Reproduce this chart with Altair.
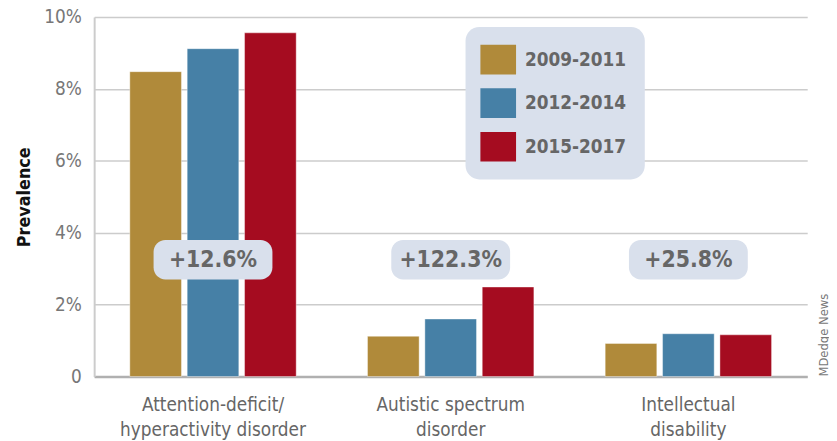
import altair as alt
import pandas as pd

categories = ["Attention-deficit/|hyperactivity disorder", "Autistic spectrum|disorder", "Intellectual|disability"]
periods = ["2009-2011", "2012-2014", "2015-2017"]
colors = ["#B08A3A", "#4680A6", "#A50C20"]
values = {
    "2009-2011": [8.48, 1.12, 0.92],
    "2012-2014": [9.12, 1.60, 1.19],
    "2015-2017": [9.56, 2.49, 1.16],
}
changes = ["+12.6%", "+122.3%", "+25.8%"]
y_ticks = [0, 2, 4, 6, 8, 10]

FONT = "DejaVu Sans Condensed, Roboto, sans-serif"
BOX = "#D9E0EC"
GRAY = "#666666"

rows = []
for p in periods:
    for c, v in zip(categories, values[p]):
        rows.append({"cat": c, "period": p, "value": v})
df = pd.DataFrame(rows)
ann = pd.DataFrame({"cat": categories, "label": changes, "lo": [2.7] * 3, "hi": [3.8] * 3, "mid": [3.25] * 3})
credit = pd.DataFrame({"t": ["MDedge News"]})

x = alt.X("cat:N", sort=categories, title=None,
          scale=alt.Scale(paddingInner=0.3, paddingOuter=0.15),
          axis=alt.Axis(labelExpr="split(datum.label, '|')", labelAngle=0, labelFontSize=19,
                        labelColor=GRAY, labelFont=FONT, labelLineHeight=26, labelPadding=19,
                        labelLimit=0, ticks=False, domainColor="#B0B0B0", domainWidth=2.5,
                        labelBaseline="top"))
y_axis = alt.Axis(values=y_ticks, labelExpr="datum.value == 0 ? '0' : datum.value + '%'",
                  labelFontSize=19, labelColor="#777777", labelFont=FONT, ticks=False,
                  labelPadding=13, gridColor="#CCCCCC", gridWidth=1.5, domainColor="#CCCCCC",
                  domainWidth=2, title="Prevalence", titleFont=FONT, titleFontSize=18,
                  titleColor="#111111", titleFontWeight="bold", titlePadding=10)
yscale = alt.Scale(domain=[0, 10])

bars = alt.Chart(df).mark_bar(strokeWidth=1, strokeOpacity=0.4, stroke="white").encode(
    x=x,
    xOffset=alt.XOffset("period:N", sort=periods, scale=alt.Scale(paddingInner=0.1)),
    y=alt.Y("value:Q", scale=yscale, axis=y_axis),
    color=alt.Color("period:N", sort=periods, scale=alt.Scale(domain=periods, range=colors),
                    legend=alt.Legend(title=None, orient="none", legendX=375, legendY=10,
                                      fillColor=BOX, cornerRadius=14, padding=18,
                                      symbolType="M-1.2,-1H1.2V1H-1.2Z", symbolSize=900,
                                      symbolStrokeWidth=0, rowPadding=14, labelOffset=12,
                                      labelFont=FONT, labelFontSize=19, labelFontWeight="bold",
                                      labelColor=GRAY)),
)

boxes = alt.Chart(ann).mark_bar(width=120, cornerRadius=12, color=BOX).encode(
    x=alt.X("cat:N", sort=categories),
    y=alt.Y("lo:Q", scale=yscale),
    y2="hi:Q",
)
texts = alt.Chart(ann).mark_text(font=FONT, fontSize=23, fontWeight="bold", color=GRAY).encode(
    x=alt.X("cat:N", sort=categories),
    y=alt.Y("mid:Q", scale=yscale),
    text="label:N",
)
cred = alt.Chart(credit).mark_text(angle=270, align="left", baseline="middle", fontSize=13,
                                   color="#777777", font=FONT).encode(
    x=alt.value(737), y=alt.value(363), text="t:N")

chart = alt.layer(bars, boxes, texts, cred).properties(
    width=720, height=363,
    padding={"left": 87, "top": 7, "right": 22, "bottom": 63},
    autosize=alt.AutoSizeParams(type="none"),
).configure_view(stroke=None).configure_axisY(grid=True).configure_axisX(grid=False)

chart.save("out.html", embed_options={"renderer": "svg", "actions": False})
